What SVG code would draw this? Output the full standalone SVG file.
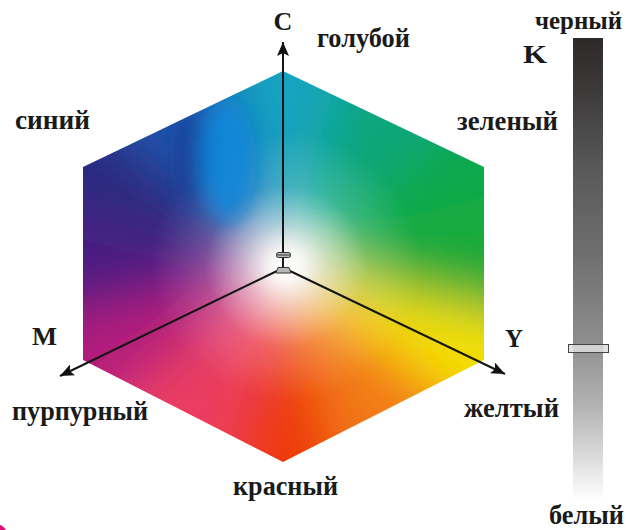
<svg xmlns="http://www.w3.org/2000/svg" width="631" height="530" viewBox="0 0 631 530">
<style>
.lbl{font-family:"Liberation Serif","Times New Roman",serif;font-weight:bold;fill:#1a1a1a;}
.w{font-size:28px;}
.cap{font-size:26px;}
.axis{stroke:#151515;stroke-width:2;fill:none;marker-end:url(#arrow);}
.gadget{fill:#b8b8b8;stroke:#333;stroke-width:1;}
</style>
<defs>
<marker id="arrow" markerUnits="userSpaceOnUse" markerWidth="15" markerHeight="12" refX="14" refY="6" orient="auto">
<path d="M0,0 L14,6 L0,12 L3,6 z" fill="#111"/>
</marker>
<clipPath id="hexClip">
<polygon points="283,71 484,167 484,360 283,462 83,360 83,167"/>
</clipPath>
<filter id="bigBlur" filterUnits="userSpaceOnUse" x="-250" y="-250" width="1150" height="1050">
<feGaussianBlur stdDeviation="26"/>
</filter>
<filter id="smallBlur" filterUnits="userSpaceOnUse" x="0" y="0" width="631" height="530">
<feGaussianBlur stdDeviation="10"/>
</filter>
<radialGradient id="whiteCenter" gradientUnits="userSpaceOnUse" cx="286" cy="266" r="135">
<stop offset="0" stop-color="#fff" stop-opacity="1"/>
<stop offset="0.1" stop-color="#fff" stop-opacity="0.95"/>
<stop offset="0.3" stop-color="#fff" stop-opacity="0.6"/>
<stop offset="0.6" stop-color="#fff" stop-opacity="0.18"/>
<stop offset="1" stop-color="#fff" stop-opacity="0"/>
</radialGradient>
<linearGradient id="grayBar" x1="0" y1="38" x2="0" y2="500" gradientUnits="userSpaceOnUse">
<stop offset="0" stop-color="#2d2928"/>
<stop offset="0.12" stop-color="#3e3b3b"/>
<stop offset="0.29" stop-color="#5a5a5a"/>
<stop offset="0.47" stop-color="#6f6f6f"/>
<stop offset="0.66" stop-color="#8e8e8e"/>
<stop offset="0.8" stop-color="#b4b4b4"/>
<stop offset="0.91" stop-color="#dcdcdc"/>
<stop offset="1" stop-color="#ffffff"/>
</linearGradient>
</defs>
<rect width="631" height="530" fill="#fff"/>

<g id="color-hexagon">
<g clip-path="url(#hexClip)">
<g filter="url(#bigBlur)">
<polygon points="283,265 173,-109 283,-162 393,-109" fill="#12a4c2"/>
<polygon points="283,265 393,-109 503,-56 614,-3" fill="#0fa67c"/>
<polygon points="283,265 614,-3 725,49 725,155" fill="#0aa84a"/>
<polygon points="283,265 725,155 725,261 725,367" fill="#1eab38"/>
<polygon points="283,265 725,367 725,474 614,530" fill="#f4e006"/>
<polygon points="283,265 614,530 503,586 393,642" fill="#f27a14"/>
<polygon points="283,265 393,642 283,698 173,642" fill="#ee3a0c"/>
<polygon points="283,265 173,642 63,586 -47,530" fill="#ea3c62"/>
<polygon points="283,265 -47,530 -157,474 -157,367" fill="#b41e7c"/>
<polygon points="283,265 -157,367 -157,261 -157,155" fill="#4c1c82"/>
<polygon points="283,265 -157,155 -157,49 -47,-3" fill="#2c2a80"/>
<polygon points="283,265 -47,-3 63,-56 173,-109" fill="#1a55ae"/>
</g>
<polygon points="283,71 484,167 484,360 283,462 83,360 83,167" fill="url(#whiteCenter)"/>
<g filter="url(#smallBlur)">
<ellipse cx="228" cy="160" rx="28" ry="62" fill="#0a8adc" opacity="0.85"/>
<ellipse cx="188" cy="160" rx="12" ry="52" fill="#173c96" opacity="0.8"/>
</g>
</g>
</g>

<g id="gray-scale">
<rect x="573" y="38" width="30" height="462" fill="url(#grayBar)"/>
<rect id="slider" x="568.5" y="344.5" width="40" height="8" fill="#dedede" fill-opacity="0.85" stroke="#444" stroke-width="1"/>
</g>

<g id="connectors">
<line class="axis" x1="283" y1="253" x2="283" y2="42"/>
<line class="axis" x1="277" y1="271" x2="60" y2="376"/>
<line class="axis" x1="290" y1="271" x2="505" y2="374"/>
</g>

<g id="origin">
<line x1="283" y1="258" x2="283" y2="267" stroke="#151515" stroke-width="2"/>
<rect class="gadget" x="276.5" y="252.5" width="14" height="5" rx="2"/>
<line x1="276.5" y1="255" x2="290.5" y2="255" stroke="#333" stroke-width="1"/>
<path class="gadget" d="M278,267.5 L289,267.5 L291,273 L276,273 z"/>
</g>

<g id="label-C"><text class="lbl cap" x="283" y="30" text-anchor="middle">C</text></g>
<g id="label-cyan"><text class="lbl w" x="317" y="47" textLength="93" lengthAdjust="spacingAndGlyphs">голубой</text></g>
<g id="label-blue"><text class="lbl w" x="15" y="129" textLength="75" lengthAdjust="spacingAndGlyphs">синий</text></g>
<g id="label-green"><text class="lbl w" x="457" y="130" textLength="101" lengthAdjust="spacingAndGlyphs">зеленый</text></g>
<g id="label-black"><text class="lbl" style="font-size:26px" x="535" y="29" textLength="87" lengthAdjust="spacingAndGlyphs">черный</text></g>
<g id="label-K"><text class="lbl cap" x="523" y="63" textLength="24" lengthAdjust="spacingAndGlyphs">K</text></g>
<g id="label-M"><text class="lbl cap" x="32" y="345" textLength="25" lengthAdjust="spacingAndGlyphs">M</text></g>
<g id="label-Y"><text class="lbl cap" x="505" y="347" textLength="18" lengthAdjust="spacingAndGlyphs">Y</text></g>
<g id="label-magenta"><text class="lbl w" x="12" y="420" textLength="136" lengthAdjust="spacingAndGlyphs">пурпурный</text></g>
<g id="label-yellow"><text class="lbl w" x="464" y="417" textLength="95" lengthAdjust="spacingAndGlyphs">желтый</text></g>
<g id="label-red"><text class="lbl w" x="233" y="495" textLength="105" lengthAdjust="spacingAndGlyphs">красный</text></g>
<g id="label-white"><text class="lbl w" x="549" y="524" textLength="75" lengthAdjust="spacingAndGlyphs">белый</text></g>

<circle cx="-4" cy="535" r="11" fill="#e0107a"/>
</svg>
